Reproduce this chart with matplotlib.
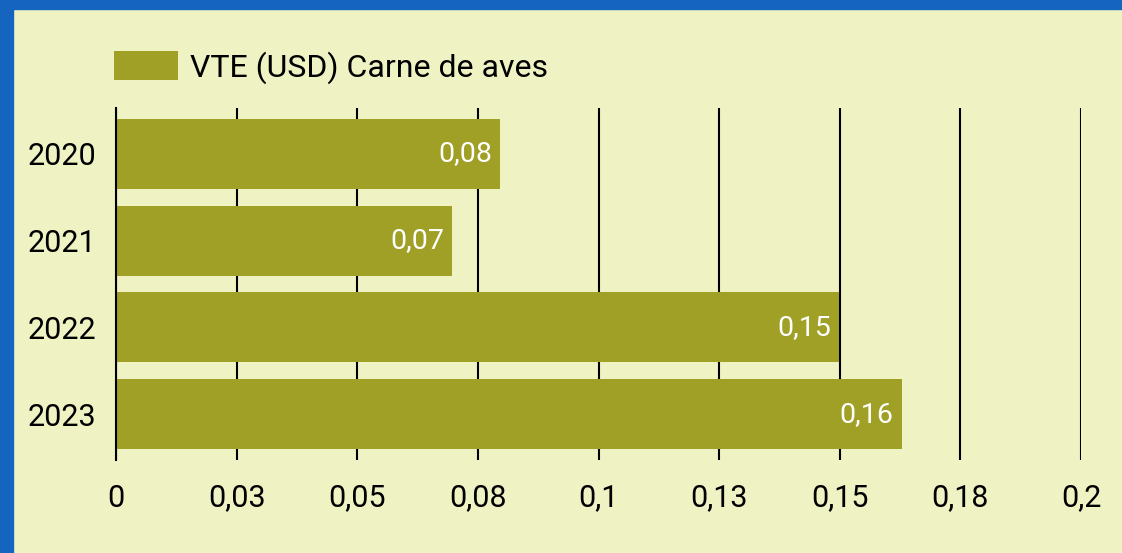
import matplotlib.pyplot as plt
from matplotlib.patches import Patch, Rectangle

# data
years = ['2020', '2021', '2022', '2023']
vte_usd = [0.0796, 0.0697, 0.1498, 0.1628]
bar_labels = ['0,08', '0,07', '0,15', '0,16']
x_ticks = [0, 0.025, 0.05, 0.075, 0.1, 0.125, 0.15, 0.175, 0.2]
x_tick_labels = ['0', '0,03', '0,05', '0,08', '0,1', '0,13', '0,15', '0,18', '0,2']

BG = '#EFF3C4'
BAR = '#A09F26'
BLUE = '#1565C0'

plt.rcParams['font.family'] = ['Roboto', 'DejaVu Sans']

fig = plt.figure(figsize=(11.22, 5.53), dpi=100, facecolor=BG)
W, H = 1122, 553

# blue frame (left and top)
fig.patches.append(Rectangle((0, 0), 13 / W, 1, transform=fig.transFigure,
                             color=BLUE, zorder=0))
fig.patches.append(Rectangle((0, 1 - 9 / H), 1, 9 / H, transform=fig.transFigure,
                             color=BLUE, zorder=0))

ax = fig.add_axes([116 / W, 1 - 460 / H, (1081 - 116) / W, (460 - 108) / H])
ax.set_facecolor(BG)

pos = list(range(len(years)))
ax.barh(pos, vte_usd, height=0.81, color=BAR, zorder=2)
for p, v, lab in zip(pos, vte_usd, bar_labels):
    ax.annotate(lab, (v, p), xytext=(-8, 0), textcoords='offset pixels',
                ha='right', va='center', color='white', fontsize=20.5, zorder=3)

ax.set_xlim(0, 0.2)
ax.set_ylim(len(years) - 0.47, -0.53)
ax.set_xticks(x_ticks)
ax.set_xticklabels(x_tick_labels)
ax.set_yticks(pos)
ax.set_yticklabels(years)
ax.tick_params(axis='both', length=0, labelsize=22, colors='black')
ax.tick_params(axis='x', pad=17)
ax.tick_params(axis='y', pad=14)
ax.grid(axis='x', color='black', linewidth=1.5, zorder=1)
ax.set_axisbelow(True)
for s in ['top', 'right', 'bottom']:
    ax.spines[s].set_visible(False)
ax.spines['left'].set_color('black')
ax.spines['left'].set_linewidth(1.5)
ax.spines['left'].set_zorder(3)

handles = [Patch(facecolor=BAR, label='VTE (USD) Carne de aves')]
fig.legend(handles=handles, loc='center left', bbox_to_anchor=(114 / W, 1 - 67.5 / H),
           frameon=False, fontsize=23, borderpad=0, borderaxespad=0,
           handlelength=2.0, handleheight=1.03, handletextpad=0.38)

fig.savefig('out.png', dpi=100, facecolor=BG)
